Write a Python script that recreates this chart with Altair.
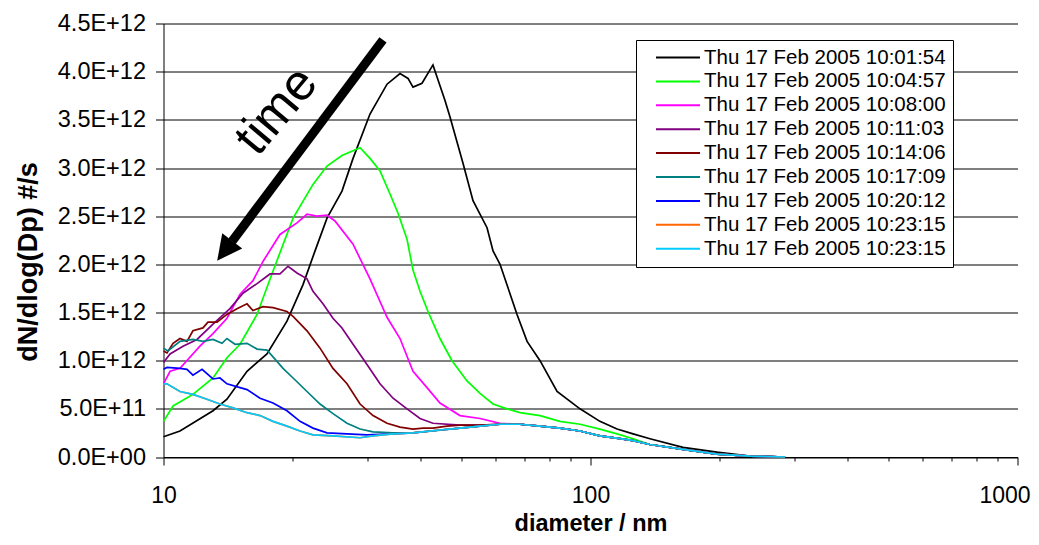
import altair as alt
import pandas as pd

E12 = 1e12

series_labels = [
    "Thu 17 Feb 2005 10:01:54", "Thu 17 Feb 2005 10:04:57", "Thu 17 Feb 2005 10:08:00",
    "Thu 17 Feb 2005 10:11:03", "Thu 17 Feb 2005 10:14:06", "Thu 17 Feb 2005 10:17:09",
    "Thu 17 Feb 2005 10:20:12", "Thu 17 Feb 2005 10:23:15", "Thu 17 Feb 2005 10:23:15",
]
series_colors = ["#000000", "#00FF00", "#FF00FF", "#800080", "#800000",
                 "#008080", "#0000FF", "#FF6600", "#00CCFF"]

# shared large-diameter tail where the later curves merge (values in 1E12)
tail_d = [68.39, 76.18, 84.8, 94.5, 105.2, 117.3, 125.8, 137.8, 164.7, 197.8, 236.4, 285.5]
tail_v = [0.34, 0.32, 0.30, 0.27, 0.22, 0.19, 0.17, 0.13, 0.08, 0.03, 0.01, 0.0]

black_d = [10.0, 10.93, 13.06, 14.08, 15.69, 17.47, 19.46, 21.22, 22.64, 24.15, 26.18,
           27.79, 30.45, 33.38, 35.80, 37.38, 38.40, 40.31, 42.76, 45.63, 46.88, 50.28,
           53.07, 57.24, 59.12, 61.39, 67.29, 71.03, 76.18, 83.5, 94.5, 105.2, 115.4,
           125.8, 137.8, 164.7, 197.8, 236.4, 285.5]
black_v = [0.21, 0.27, 0.48, 0.60, 0.89, 1.07, 1.41, 1.79, 2.14, 2.48, 2.76,
           3.10, 3.56, 3.87, 3.98, 3.93, 3.84, 3.88, 4.07, 3.70, 3.53, 3.05,
           2.66, 2.38, 2.14, 2.00, 1.48, 1.20, 1.00, 0.68, 0.50, 0.37, 0.29,
           0.24, 0.19, 0.10, 0.05, 0.01, 0.0]

green_d = [10.0, 10.53, 11.72, 13.06, 14.08, 15.11, 16.56, 18.05, 20.11, 22.39, 24.15,
           26.18, 28.86, 30.45, 32.14, 33.92, 35.42, 37.18, 38.40, 39.88, 41.63, 44.41,
           47.38, 51.38, 55.11, 59.12, 63.75, 68.39, 76.18, 84.8, 94.5, 105.2, 115.4,
           125.8, 137.8, 164.7, 197.8, 236.4, 285.5]
green_v = [0.37, 0.53, 0.65, 0.82, 1.03, 1.17, 1.48, 1.93, 2.48, 2.83, 3.02,
           3.13, 3.21, 3.10, 2.97, 2.73, 2.53, 2.26, 1.94, 1.72, 1.51, 1.23,
           1.00, 0.79, 0.66, 0.55, 0.50, 0.46, 0.43, 0.37, 0.34, 0.29, 0.24,
           0.19, 0.13, 0.08, 0.03, 0.01, 0.0]

magenta_d = [10.0, 10.36, 10.93, 12.17, 13.06, 14.08, 15.11, 16.20, 17.10, 18.74, 20.54,
             21.68, 22.88, 24.15, 25.21, 27.79, 28.86, 30.45, 33.38, 35.80, 38.40, 41.41,
             44.41, 49.47, 55.11, 61.39]
magenta_v = [0.76, 0.89, 0.92, 1.15, 1.28, 1.44, 1.69, 1.83, 2.03, 2.31, 2.43,
             2.52, 2.50, 2.51, 2.45, 2.21, 2.06, 1.85, 1.45, 1.23, 0.89, 0.72,
             0.56, 0.43, 0.40, 0.35]

purple_d = [10.0, 10.36, 11.11, 11.98, 13.06, 14.31, 15.35, 16.56, 17.76, 18.74, 19.57,
            20.54, 21.68, 22.39, 23.63, 24.94, 26.18, 27.79, 29.96, 32.14, 34.48, 37.18,
            39.88, 42.76, 49.47, 55.11, 61.39]
purple_v = [0.98, 1.07, 1.15, 1.22, 1.38, 1.54, 1.70, 1.80, 1.90, 1.90, 1.98,
            1.91, 1.85, 1.72, 1.59, 1.44, 1.34, 1.17, 0.96, 0.76, 0.61, 0.50,
            0.40, 0.35, 0.33, 0.33, 0.34]

darkred_d = [10.0, 10.19, 10.53, 10.93, 11.35, 11.72, 12.37, 12.71, 13.35, 14.08, 14.86,
             15.69, 16.20, 17.10, 18.05, 19.46, 20.11, 21.68, 23.26, 24.94, 26.90, 28.86,
             30.95, 33.38, 35.80, 38.40, 40.53, 42.76, 46.12, 49.47, 55.11, 61.39]
darkred_v = [1.10, 1.08, 1.18, 1.23, 1.20, 1.31, 1.34, 1.40, 1.40, 1.48, 1.54,
             1.59, 1.52, 1.56, 1.55, 1.51, 1.46, 1.31, 1.13, 0.92, 0.76, 0.55,
             0.43, 0.35, 0.31, 0.29, 0.30, 0.30, 0.32, 0.33, 0.33, 0.34]

teal_d = [10.0, 10.24, 10.93, 11.72, 12.37, 13.06, 13.71, 14.08, 14.71, 15.69, 16.56,
          17.47, 18.05, 19.05, 20.11, 21.68, 23.26, 24.94, 26.90, 28.86, 30.95, 34.48,
          38.40, 42.76, 49.47, 55.11, 61.39]
teal_v = [1.13, 1.10, 1.20, 1.22, 1.20, 1.22, 1.18, 1.23, 1.17, 1.18, 1.12,
          1.11, 1.04, 0.92, 0.82, 0.68, 0.55, 0.45, 0.35, 0.29, 0.26, 0.25,
          0.25, 0.27, 0.30, 0.32, 0.34]

blue_d = [10.0, 10.19, 10.93, 11.35, 11.72, 12.31, 13.06, 13.56, 14.08, 15.11, 15.69,
          16.83, 18.05, 19.46, 20.88, 22.39, 24.15, 26.90, 29.96, 34.48, 38.40, 44.41,
          49.47, 55.11, 61.39]
blue_v = [0.91, 0.93, 0.92, 0.91, 0.85, 0.91, 0.81, 0.82, 0.76, 0.72, 0.70,
          0.61, 0.56, 0.48, 0.37, 0.30, 0.25, 0.24, 0.23, 0.24, 0.25, 0.28,
          0.30, 0.32, 0.34]

orange_d = [10.0, 10.19, 10.93, 11.72, 12.64, 13.56, 14.55, 15.69, 16.83, 18.05, 19.46,
            20.88, 22.39, 24.94, 28.86, 30.95, 34.48, 38.40, 44.41, 49.47, 55.11, 61.39]
orange_v = [0.76, 0.76, 0.68, 0.65, 0.60, 0.55, 0.51, 0.46, 0.43, 0.37, 0.32,
            0.27, 0.23, 0.22, 0.20, 0.22, 0.24, 0.25, 0.28, 0.30, 0.32, 0.34]

cyan_d = [10.0, 10.19, 10.93, 11.72, 12.64, 13.56, 14.55, 15.69, 16.83, 18.05, 19.46,
          20.88, 22.39, 24.94, 28.86, 30.95, 34.48, 38.40, 44.41, 49.47, 55.11, 61.39]
cyan_v = [0.76, 0.76, 0.68, 0.65, 0.60, 0.55, 0.51, 0.46, 0.43, 0.37, 0.32,
          0.27, 0.23, 0.22, 0.20, 0.22, 0.24, 0.25, 0.28, 0.30, 0.32, 0.34]

x_tick_values = [10, 20, 30, 40, 50, 60, 70, 80, 90, 100,
                 200, 300, 400, 500, 600, 700, 800, 900, 1000]
x_label_values = [10, 100, 1000]
y_tick_values = [0, 500000000000, 1000000000000, 1500000000000, 2000000000000,
                 2500000000000, 3000000000000, 3500000000000, 4000000000000, 4500000000000]
y_tick_labels = ["0.0E+00", "5.0E+11", "1.0E+12", "1.5E+12", "2.0E+12",
                 "2.5E+12", "3.0E+12", "3.5E+12", "4.0E+12", "4.5E+12"]

# annotation: arrow and "time" text (diameter, value in 1E12)
arrow_start = [32.66, 4.33]
arrow_end = [14.48, 2.24]
arrow_head = [13.91, 2.14]
time_pos = [18.45, 3.59]

curves = [
    (black_d, black_v), (green_d, green_v), (magenta_d, magenta_v),
    (purple_d, purple_v), (darkred_d, darkred_v), (teal_d, teal_v),
    (blue_d, blue_v), (orange_d, orange_v), (cyan_d, cyan_v),
]

keys = [f"{lab}#{i}" for i, lab in enumerate(series_labels)]
rows = []
for i, (ds, vs) in enumerate(curves):
    if ds[-1] < 100:
        ds = ds + tail_d
        vs = vs + tail_v
    for d, v in zip(ds, vs):
        rows.append({"key": keys[i], "d": d, "v": v * E12})
df = pd.DataFrame(rows)

major_test = "indexof(" + str(x_label_values) + ", datum.value) >= 0"
x_scale = alt.Scale(type="log", domain=[10, 1000], nice=False)
y_scale = alt.Scale(domain=[0, 4.5 * E12], nice=False)

x_axis = alt.Axis(
    values=x_tick_values,
    labelExpr=major_test + " ? format(datum.value, 'd') : ''",
    grid=False,
    tickSize={"condition": {"test": major_test, "value": 8}, "value": 4},
    labelOffset={"condition": {"test": "datum.value == 1000", "value": -13}, "value": 0},
    labelPadding=19,
    labelFontSize=23,
    labelFlush=False,
    labelOverlap=False,
    title="diameter / nm",
    titleFontSize=23.5,
    titleFontWeight="bold",
    titleY=73,
    titleBaseline="alphabetic",
)
y_axis = alt.Axis(
    values=y_tick_values,
    labelExpr="[" + ",".join(f"'{s}'" for s in y_tick_labels) + "][round(datum.value / 500000000000)]",
    grid=True,
    tickSize=8,
    labelPadding=10,
    labelFontSize=23.5,
    title="dN/dlog(Dp) #/s",
    titleFontSize=27,
    titleFontWeight="bold",
    titleAngle=270,
    titleX=-135.5,
    titleY=238,
    titleAlign="center",
    titleBaseline="middle",
)

x_enc = alt.X("d:Q", scale=x_scale, axis=x_axis)
y_enc = alt.Y("v:Q", scale=y_scale, axis=y_axis)

lines = alt.Chart(df).mark_line(strokeWidth=1.7).encode(
    x=x_enc,
    y=y_enc,
    color=alt.Color(
        "key:N",
        scale=alt.Scale(domain=keys, range=series_colors),
        sort=keys,
        legend=alt.Legend(
            orient="none", legendX=472.5, legendY=16.5, title=None,
            labelExpr="split(datum.label, '#')[0]",
            symbolType="M-2.316,0L2.316,0", symbolSize=361, symbolStrokeWidth=2,
            labelFontSize=20.5, labelColor="black", labelOffset=15.5, labelLimit=400,
            rowPadding=2.9, padding=7, strokeColor="black", fillColor="white",
            symbolOffset=24.5,
        ),
    ),
)

ann_line_df = pd.DataFrame([{"d": arrow_start[0], "v": arrow_start[1] * E12,
                             "d2": arrow_end[0], "v2": arrow_end[1] * E12}])
shaft = alt.Chart(ann_line_df).mark_rule(strokeWidth=9, color="black", strokeCap="butt").encode(
    x=x_enc, y=y_enc, x2="d2:Q", y2="v2:Q")

head_df = pd.DataFrame([{"d": arrow_head[0], "v": arrow_head[1] * E12}])
head = alt.Chart(head_df).mark_point(
    shape="M0,-1L1,1L-1,1Z", size=625, angle=217, filled=True, color="black", opacity=1
).encode(x=x_enc, y=y_enc)

text_df = pd.DataFrame([{"d": time_pos[0], "v": time_pos[1] * E12, "t": "time"}])
time_text = alt.Chart(text_df).mark_text(
    angle=310, fontSize=51, color="black", align="center", baseline="middle"
).encode(x=x_enc, y=y_enc, text="t:N")

chart = alt.layer(lines, shaft, head, time_text).properties(
    width=854, height=433.5, autosize="none",
    padding={"left": 155.5, "top": 15.5, "right": 13.5, "bottom": 80},
).configure(font="Liberation Sans", background="white").configure_axis(
    domainColor="black", tickColor="black", labelColor="black", titleColor="black",
    gridColor="black", domainWidth=1, tickWidth=1, gridWidth=1,
).configure_view(strokeWidth=0)

chart.save("out.html", embed_options={"renderer": "svg", "actions": False})
